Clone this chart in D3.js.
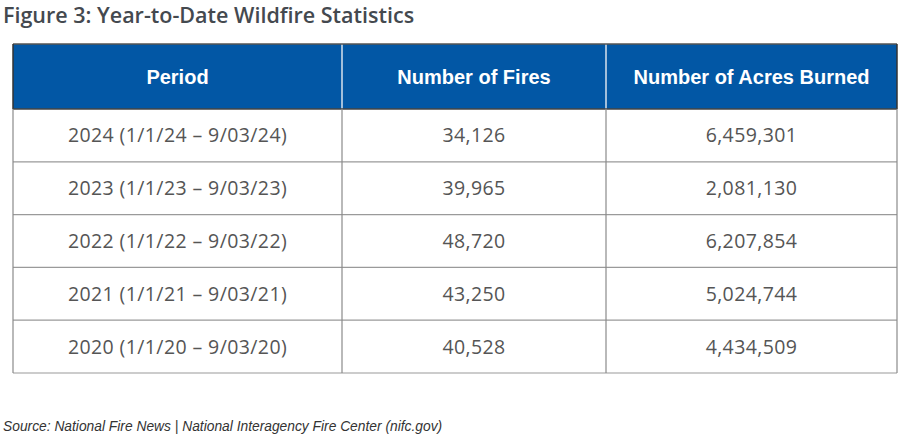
<!DOCTYPE html>
<html><head><meta charset="utf-8">
<script src="https://cdn.jsdelivr.net/npm/d3@7"></script>
<style>
html,body{margin:0;padding:0;background:#fff;}
svg{display:block;}
</style></head>
<body>
<svg id="chart" width="900" height="436"></svg>
<script>
const title = "Figure 3: Year-to-Date Wildfire Statistics";
const headers = ["Period", "Number of Fires", "Number of Acres Burned"];
const periods = ["2024 (1/1/24 – 9/03/24)", "2023 (1/1/23 – 9/03/23)", "2022 (1/1/22 – 9/03/22)", "2021 (1/1/21 – 9/03/21)", "2020 (1/1/20 – 9/03/20)"];
const fires = [34126, 39965, 48720, 43250, 40528];
const acres = [6459301, 2081130, 6207854, 5024744, 4434509];
const source = "Source: National Fire News | National Interagency Fire Center (nifc.gov)";

const svg = d3.select("#chart");
const fmt = d3.format(",");
const colEdges = [13, 342, 606, 897];
const headTop = 44, headBot = 109, tableBot = 373;
const y = d3.scaleBand().domain(d3.range(periods.length)).range([headBot, tableBot]);

const font = "'Liberation Sans', Arial, sans-serif";
const bodyFont = "'Open Sans', 'Liberation Sans', sans-serif";

svg.append("text").attr("x", 3).attr("y", 23)
  .attr("font-family", bodyFont).attr("font-weight", 600).attr("font-size", 21.5).attr("fill", "#44494f")
  .text(title);

// header
svg.append("rect").attr("x", colEdges[0]).attr("y", headTop)
  .attr("width", colEdges[3]-colEdges[0]).attr("height", headBot-headTop)
  .attr("fill", "#0257a5");
headers.forEach((h,i) => {
  svg.append("text").attr("x", (colEdges[i]+colEdges[i+1])/2).attr("y", (headTop+headBot)/2 + 7.5)
    .attr("text-anchor","middle").attr("font-family", font).attr("font-weight","bold")
    .attr("font-size", 20).attr("fill","#fff").text(h);
});
[1,2].forEach(i => {
  svg.append("line").attr("x1", colEdges[i]).attr("x2", colEdges[i]).attr("y1", headTop).attr("y2", headBot)
    .attr("stroke", "#d8e2ee").attr("stroke-width", 1.5);
});
svg.append("line").attr("x1", colEdges[0]).attr("x2", colEdges[3]).attr("y1", headTop).attr("y2", headTop).attr("stroke","#555").attr("stroke-width",1.5);
svg.append("line").attr("x1", colEdges[0]).attr("x2", colEdges[0]).attr("y1", headTop).attr("y2", headBot).attr("stroke","#333").attr("stroke-width",1.5);
svg.append("line").attr("x1", colEdges[3]).attr("x2", colEdges[3]).attr("y1", headTop).attr("y2", headBot).attr("stroke","#333").attr("stroke-width",1.5);
svg.append("line").attr("x1", colEdges[0]).attr("x2", colEdges[3]).attr("y1", headBot).attr("y2", headBot).attr("stroke","#444").attr("stroke-width",1.5);

// body rows
const rows = svg.selectAll("g.row").data(periods.map((p,i)=>({p, f:fires[i], a:acres[i], i})))
  .enter().append("g").attr("class","row");
rows.append("line").attr("x1", colEdges[0]).attr("x2", colEdges[3])
  .attr("y1", d => y(d.i)+y.bandwidth()).attr("y2", d => y(d.i)+y.bandwidth())
  .attr("stroke", "#9a9a9a").attr("stroke-width", 1.2);
[["p", 0], ["f", 1], ["a", 2]].forEach(([k, c]) => {
  rows.append("text").attr("x", (colEdges[c]+colEdges[c+1])/2)
    .attr("y", d => y(d.i)+y.bandwidth()/2 + 7)
    .attr("text-anchor","middle").attr("font-family", bodyFont).attr("font-size", 19.5)
    .attr("letter-spacing", 0.4)
    .attr("fill", "#555")
    .text(d => k === "p" ? d.p : fmt(d[k]));
});
[0,1,2,3].forEach(i => {
  svg.append("line").attr("x1", colEdges[i]).attr("x2", colEdges[i]).attr("y1", headBot).attr("y2", tableBot)
    .attr("stroke", "#8a8a8a").attr("stroke-width", 1.2);
});

svg.append("text").attr("x", 3).attr("y", 431)
  .attr("font-family", font).attr("font-style","italic").attr("font-size", 13.8).attr("fill","#333")
  .text(source);
</script>
</body></html>
